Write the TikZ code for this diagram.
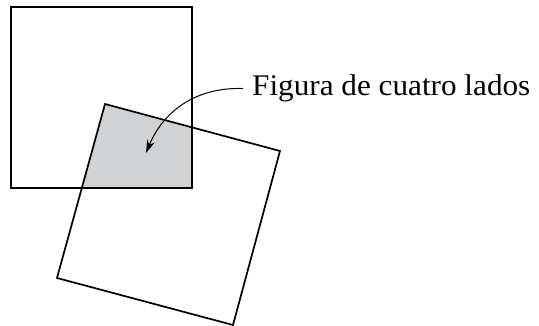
\documentclass[tikz,border=0pt]{standalone}
\usepackage{fontspec}
\setmainfont{Liberation Serif}
\usetikzlibrary{arrows.meta,calc,positioning}

\definecolor{shadegray}{HTML}{D1D2D4}

\begin{document}
\begin{tikzpicture}[x=1pt,y=-1pt]
      \useasboundingbox (0,0) rectangle (539,326);
      % corners of the upright square
      \coordinate (a1) at (11,7);
      \coordinate (a3) at (192,188);
      % corners of the tilted square
      \coordinate (b1) at (105,104);
      \coordinate (b2) at (280,151);
      \coordinate (b3) at (233,325);
      \coordinate (b4) at (57,278);
      \begin{scope}
        \clip (a1) rectangle (a3);
        \fill[shadegray] (b1) -- (b2) -- (b3) -- (b4) -- cycle;
      \end{scope}
      \draw[line width=1.7pt] (a1) rectangle (a3);
      \draw[line width=1.7pt, line join=miter] (b1) -- (b2) -- (b3) -- (b4) -- cycle;
      \node[anchor=base west, inner xsep=9pt, font=\fontsize{30}{36}\selectfont] (lbl) at (243,95.7) {\scalebox{1.04}[1]{Figura de cuatro lados}};
      \coordinate (tip) at (146,153);
      \draw[line width=1pt, -{Stealth[length=13pt,width=8pt]}] (lbl.west) .. controls (195,87) and (163,112) .. (tip);
    \end{tikzpicture}
\end{document}
